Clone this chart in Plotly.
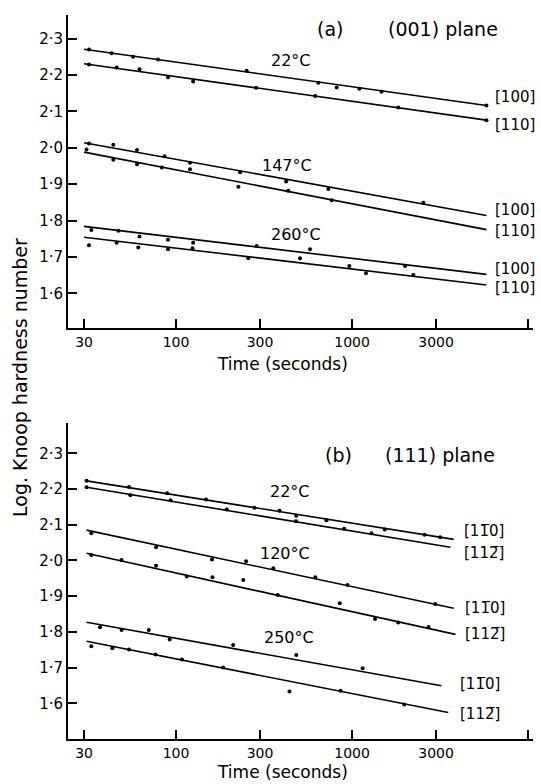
import plotly.graph_objects as go

W, H = 541, 784

# ---------------- (a) (001) plane ----------------
a22_100_t = [32, 43, 57, 79, 252, 643, 818, 1100, 1470, 5800]
a22_100_v = [2.270, 2.260, 2.250, 2.243, 2.212, 2.179, 2.166, 2.162, 2.154, 2.116]
a22_110_t = [32, 46, 62, 90, 125, 285, 617, 1830, 5800]
a22_110_v = [2.229, 2.221, 2.216, 2.194, 2.182, 2.165, 2.142, 2.111, 2.076]
a147_100_t = [32, 44, 60, 86, 120, 231, 422, 733, 2540]
a147_100_v = [2.012, 2.008, 1.994, 1.977, 1.959, 1.933, 1.907, 1.887, 1.849]
a147_110_t = [31, 44, 60, 83, 120, 226, 434, 766]
a147_110_v = [1.995, 1.967, 1.955, 1.946, 1.941, 1.893, 1.882, 1.856]
a260_100_t = [33, 47, 62, 90, 125, 287, 577, 2000]
a260_100_v = [1.774, 1.772, 1.756, 1.747, 1.739, 1.730, 1.721, 1.675]
a260_110_t = [32, 46, 61, 90, 124, 257, 506, 965, 1200, 2230]
a260_110_v = [1.732, 1.739, 1.726, 1.721, 1.724, 1.696, 1.696, 1.675, 1.655, 1.650]

# fitted straight lines (log time): start/end time and value
a_fit_t = [30, 5800]
a_fit = {
    "22_100": [2.271, 2.116],
    "22_110": [2.231, 2.076],
    "147_100": [2.014, 1.814],
    "147_110": [1.988, 1.775],
    "260_100": [1.784, 1.652],
    "260_110": [1.754, 1.623],
}

# ---------------- (b) (111) plane ----------------
b22_1_t = [31, 54, 89, 148, 279, 387, 482, 715, 1535, 2580, 3170]
b22_1_v = [2.223, 2.206, 2.188, 2.171, 2.148, 2.139, 2.125, 2.113, 2.087, 2.072, 2.065]
b22_2_t = [31, 55, 93, 194, 480, 902, 1290]
b22_2_v = [2.205, 2.183, 2.169, 2.143, 2.110, 2.089, 2.076]
b120_1_t = [33, 77, 160, 250, 357, 618, 942, 2970]
b120_1_v = [2.076, 2.037, 2.003, 1.998, 1.978, 1.953, 1.931, 1.878]
b120_2_t = [33, 49, 77, 115, 161, 241, 378, 851, 1350, 1830, 2720]
b120_2_v = [2.015, 2.001, 1.985, 1.955, 1.953, 1.945, 1.903, 1.880, 1.836, 1.826, 1.814]
b250_1_t = [37, 49, 70, 92, 211, 482, 1148]
b250_1_v = [1.813, 1.805, 1.805, 1.779, 1.763, 1.735, 1.698]
b250_2_t = [33, 43.5, 54, 76.5, 108, 185, 441, 861, 1980]
b250_2_v = [1.760, 1.754, 1.751, 1.737, 1.723, 1.700, 1.633, 1.635, 1.597]

b_fit = {
    "22_1": ([31, 3780], [2.223, 2.059]),
    "22_2": ([31, 3620], [2.205, 2.037]),
    "120_1": ([31, 3780], [2.085, 1.866]),
    "120_2": ([31, 3870], [2.020, 1.793]),
    "250_1": ([31, 3220], [1.827, 1.649]),
    "250_2": ([31, 3520], [1.774, 1.574]),
}

y_ticks = [1.6, 1.7, 1.8, 1.9, 2.0, 2.1, 2.2, 2.3]
y_ticktext = ["1·6", "1·7", "1·8", "1·9", "2·0", "2·1", "2·2", "2·3"]
x_ticks = [30, 100, 300, 1000, 3000, 10000]
x_ticktext = ["30", "100", "300", "1000", "3000", ""]

FONT = "DejaVu Sans"
fig = go.Figure()

def pts(t, v, xa, ya):
    fig.add_trace(go.Scatter(x=t, y=v, mode="markers", xaxis=xa, yaxis=ya,
                             marker=dict(size=4, color="black"), showlegend=False,
                             hoverinfo="skip"))

def line(t, v, xa, ya):
    fig.add_trace(go.Scatter(x=t, y=v, mode="lines", xaxis=xa, yaxis=ya,
                             line=dict(color="black", width=1.6), showlegend=False,
                             hoverinfo="skip"))

for key, vals in a_fit.items():
    line(a_fit_t, vals, "x", "y")
for t, v in [(a22_100_t, a22_100_v), (a22_110_t, a22_110_v), (a147_100_t, a147_100_v),
             (a147_110_t, a147_110_v), (a260_100_t, a260_100_v), (a260_110_t, a260_110_v)]:
    pts(t, v, "x", "y")

for key, (t, v) in b_fit.items():
    line(t, v, "x2", "y2")
for t, v in [(b22_1_t, b22_1_v), (b22_2_t, b22_2_v), (b120_1_t, b120_1_v),
             (b120_2_t, b120_2_v), (b250_1_t, b250_1_v), (b250_2_t, b250_2_v)]:
    pts(t, v, "x2", "y2")

def px(x):
    return x / W

def py(y):
    return 1 - y / H

xdom = [px(68), px(533)]
xr = [1.386, 4.028]
common_x = dict(type="log", range=xr, tickvals=x_ticks, ticktext=x_ticktext,
                showline=True, linecolor="black", linewidth=2, ticks="inside",
                ticklen=9, tickwidth=1.5, tickcolor="black", showgrid=False,
                zeroline=False, tickfont=dict(family=FONT, size=14, color="black"),
                domain=xdom)
common_y = dict(tickvals=y_ticks, ticktext=y_ticktext, showline=True,
                linecolor="black", linewidth=2, ticks="inside", ticklen=9,
                tickwidth=1.5, tickcolor="black", showgrid=False, zeroline=False,
                tickfont=dict(family=FONT, size=15, color="black"))

fig.update_layout(
    width=W, height=H, autosize=False,
    margin=dict(l=0, r=0, t=0, b=0),
    paper_bgcolor="white", plot_bgcolor="white",
    xaxis=dict(common_x, anchor="y"),
    yaxis=dict(common_y, domain=[py(327.7), py(15)], range=[1.5054, 2.365], anchor="x"),
    xaxis2=dict(common_x, anchor="y2"),
    yaxis2=dict(common_y, domain=[py(739.3), py(423)], range=[1.4992, 2.385], anchor="x2"),
)

def note(text, x, y, size, xanchor="center", angle=0):
    fig.add_annotation(text=text, x=px(x), y=py(y), xref="paper", yref="paper",
                       showarrow=False, xanchor=xanchor, yanchor="middle",
                       textangle=angle, font=dict(family=FONT, size=size, color="black"))

# panel headings
note("(a)", 330, 29, 19)
note("(001) plane", 443, 29, 19)
note("(b)", 338, 455, 19)
note("(111) plane", 440, 455, 19)

# temperatures
note("22°C", 291, 61, 16)
note("147°C", 287, 165, 16)
note("260°C", 296, 234, 16)
note("22°C", 290, 491, 16)
note("120°C", 285, 553, 16)
note("250°C", 289, 637, 16)

# crystal directions
for lab, x, y in [("[100]", 493, 97), ("[110]", 493, 125), ("[100]", 493, 210),
                  ("[110]", 493, 231), ("[100]", 493, 269), ("[110]", 493, 288)]:
    note(lab, x, y, 15, xanchor="left")
d1 = "[11\u03050]"
d2 = "[112\u0305]"
for lab, x, y in [(d1, 462, 531), (d2, 462, 553), (d1, 463, 608),
                  (d2, 463, 634), (d1, 458, 684), (d2, 458, 714)]:
    note(lab, x, y, 15, xanchor="left")

# axis titles
note("Time (seconds)", 282, 364, 17)
note("Time (seconds)", 282, 772, 17)
note("Log. Knoop hardness number", 20, 378, 19, angle=-90)

fig.write_html("out.html")
